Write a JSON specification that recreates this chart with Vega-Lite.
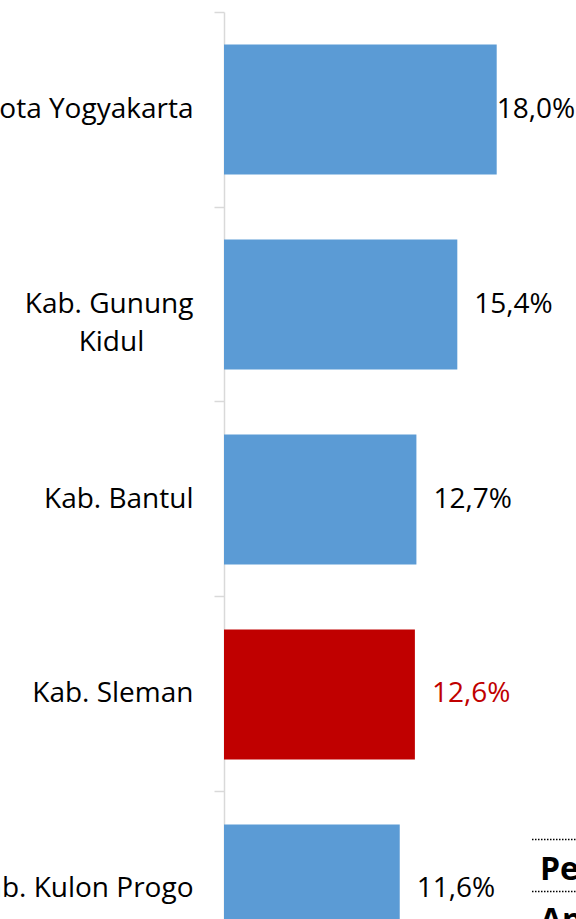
{
  "$schema": "https://vega.github.io/schema/vega-lite/v6.json",
  "width": 303,
  "height": 975,
  "autosize": {"type": "none"},
  "padding": {"left": 224, "top": 12, "right": 49, "bottom": 0},
  "background": "white",
  "config": {
    "view": {"stroke": null},
    "font": "Open Sans",
    "locale": {"number": {"decimal": ",", "thousands": ".", "grouping": [3], "currency": ["Rp", ""]}}
  },
  "data": {
    "values": [
      {"region": "Kota Yogyakarta", "value": 0.180, "highlight": "no"},
      {"region": "Kab. Gunung Kidul", "value": 0.154, "highlight": "no"},
      {"region": "Kab. Bantul", "value": 0.127, "highlight": "no"},
      {"region": "Kab. Sleman", "value": 0.126, "highlight": "yes"},
      {"region": "Kab. Kulon Progo", "value": 0.116, "highlight": "no"}
    ]
  },
  "encoding": {
    "y": {
      "field": "region",
      "type": "nominal",
      "sort": null,
      "scale": {"paddingInner": 0.3333, "paddingOuter": 0.1667},
      "axis": {
        "title": null,
        "bandPosition": -0.25,
        "labelOffset": 0,
        "tickSize": 10,
        "tickColor": "#D9D9D9",
        "tickWidth": 1.5,
        "domainColor": "#D9D9D9",
        "domainWidth": 1.5,
        "labelPadding": 21,
        "labelFontSize": 28,
        "labelFont": "Open Sans",
        "labelColor": "#000000",
        "labelLimit": 0,
        "labelLineHeight": 38,
        "labelBaseline": "middle",
        "labelExpr": "datum.label == 'Kab. Gunung Kidul' ? ['Kab. Gunung', 'Kidul\u00a0\u2800\u2800'] : datum.label"
      }
    },
    "x": {
      "field": "value",
      "type": "quantitative",
      "scale": {"domain": [0, 0.2]},
      "axis": null
    }
  },
  "layer": [
    {
      "mark": {"type": "bar"},
      "encoding": {
        "color": {
          "field": "highlight",
          "type": "nominal",
          "scale": {"domain": ["no", "yes"], "range": ["#5B9BD5", "#C00000"]},
          "legend": null
        }
      }
    },
    {
      "transform": [{"filter": "datum.value < 0.18"}],
      "mark": {"type": "text", "align": "left", "baseline": "middle", "dx": 17, "fontSize": 28, "font": "Open Sans"},
      "encoding": {
        "text": {"field": "value", "type": "quantitative", "format": ".1%"},
        "color": {"condition": {"test": "datum.highlight == 'yes'", "value": "#C00000"}, "value": "#000000"}
      }
    },
    {
      "transform": [{"filter": "datum.value >= 0.18"}],
      "mark": {"type": "text", "align": "left", "baseline": "middle", "dx": 0, "fontSize": 28, "font": "Open Sans"},
      "encoding": {
        "text": {"field": "value", "type": "quantitative", "format": ".1%"},
        "color": {"value": "#000000"}
      }
    },
    {
      "transform": [{"filter": "datum.region == 'Kab. Kulon Progo'"}],
      "mark": {"type": "text", "align": "left", "baseline": "alphabetic", "dy": -9, "fontSize": 32, "fontWeight": "bold", "font": "Open Sans", "fill": "#000000", "text": "Pe"},
      "encoding": {
        "x": {"datum": 0.2086, "type": "quantitative"}
      }
    },
    {
      "transform": [{"filter": "datum.region == 'Kab. Kulon Progo'"}],
      "mark": {"type": "text", "align": "left", "baseline": "alphabetic", "dy": 42, "fontSize": 32, "fontWeight": "bold", "font": "Open Sans", "fill": "#000000", "text": "An"},
      "encoding": {
        "x": {"datum": 0.2086, "type": "quantitative"}
      }
    },
    {
      "transform": [{"filter": "datum.region == 'Kab. Kulon Progo'"}],
      "mark": {"type": "rule", "color": "#000000", "strokeWidth": 1.5, "strokeDash": [1.5, 1.5]},
      "encoding": {
        "x": {"datum": 0.2033, "type": "quantitative"},
        "x2": {"datum": 0.24},
        "yOffset": {"value": 67}
      }
    },
    {
      "transform": [{"filter": "datum.region == 'Kab. Kulon Progo'"}],
      "mark": {"type": "rule", "color": "#000000", "strokeWidth": 1.5, "strokeDash": [1.5, 1.5]},
      "encoding": {
        "x": {"datum": 0.2033, "type": "quantitative"},
        "x2": {"datum": 0.24},
        "yOffset": {"value": 15}
      }
    }
  ]
}
